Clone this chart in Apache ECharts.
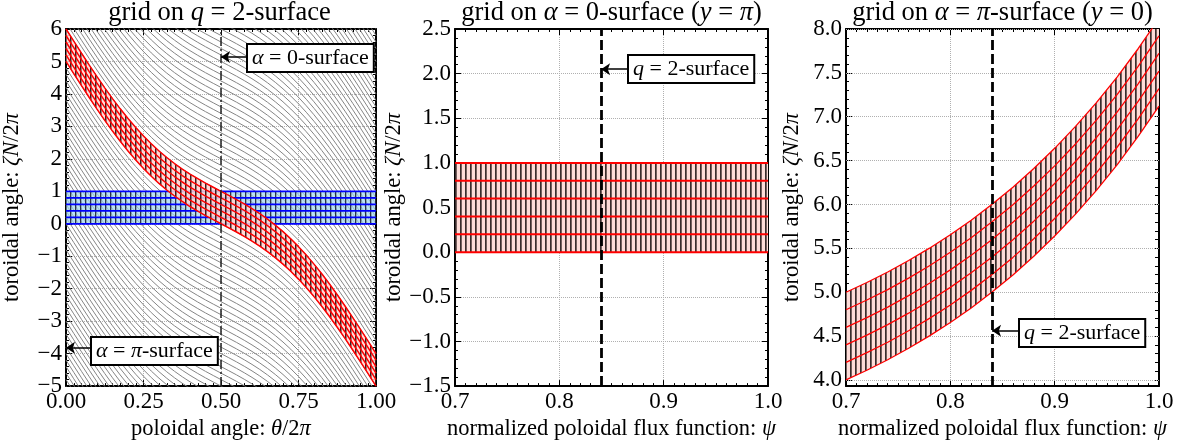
<!DOCTYPE html>
<html>
<head>
<meta charset="utf-8">
<script src="https://cdn.jsdelivr.net/npm/echarts@6/dist/echarts.min.js"></script>
<style>
  html, body { margin: 0; padding: 0; background: #fff; }
  #chart { width: 1185px; height: 446px; }
</style>
</head>
<body>
<div id="chart"></div>
<script>
  // panel 1: flux tube on the q=2 surface, bottom edge (zeta N / 2pi) vs theta/2pi
  const thetaPts = [0, 0.025, 0.05, 0.075, 0.1, 0.125, 0.15, 0.175, 0.2, 0.225, 0.25, 0.275, 0.3, 0.325, 0.35, 0.375, 0.4,
    0.425, 0.45, 0.475, 0.5, 0.525, 0.55, 0.575, 0.6, 0.625, 0.65, 0.675, 0.7, 0.725, 0.75, 0.775, 0.8, 0.825, 0.85, 0.875,
    0.9, 0.925, 0.95, 0.975, 1]
  const tubeZeta = [5.0, 4.625, 4.254, 3.889, 3.532, 3.187, 2.856, 2.541, 2.243, 1.964, 1.704, 1.464, 1.243, 1.041, 0.856,
    0.687, 0.532, 0.389, 0.254, 0.126, 0, -0.126, -0.254, -0.389, -0.532, -0.687, -0.856, -1.041, -1.243, -1.464, -1.704,
    -1.964, -2.243, -2.541, -2.856, -3.187, -3.532, -3.889, -4.254, -4.625, -5.0]
  const thetaRange = [0, 1]
  // offsets of the field lines inside a flux tube
  const alphaLevels = [0, 0.2, 0.4, 0.6, 0.8, 1.0]
  const fieldLineStep = 0.2
  const alphaZeroTheta = 0.5

  // panel 2 / 3
  const psiRange = [0.7, 1.0]
  const psiPts = [0.70, 0.72, 0.74, 0.76, 0.78, 0.80, 0.82, 0.84, 0.86, 0.88, 0.90, 0.92, 0.94, 0.96, 0.98, 1.00]
  const piSurfZeta = [4.000, 4.111, 4.230, 4.361, 4.502, 4.655, 4.821, 5.002, 5.197, 5.410, 5.640, 5.890, 6.161, 6.455, 6.775, 7.121]
  const piSurfTicks = [4.0, 4.5, 5.0, 5.5, 6.0, 6.5, 7.0, 7.5, 8.0]
  const qSurfacePsi = 0.84

  const FONT = 'Liberation Serif'
  const bandHeight = alphaLevels[alphaLevels.length - 1]

  const rich = (size) => ({
    i: { fontFamily: FONT, fontStyle: 'italic', fontSize: size, color: '#000' },
  })

  const hatch = (bg, ink, w) => {
    const c = document.createElement('canvas')
    c.width = 5
    c.height = 4
    const ctx = c.getContext('2d')
    ctx.fillStyle = bg
    ctx.fillRect(0, 0, 5, 4)
    ctx.fillStyle = ink
    ctx.fillRect(0, 0, w, 4)
    return { image: c, repeat: 'repeat' }
  }
  const blueHatch = hatch('rgba(160,212,236,0.7)', 'rgba(10,10,30,0.8)', 1.3)
  const redHatch = hatch('rgba(255,212,208,0.85)', 'rgba(30,0,0,0.85)', 1.5)
  const pinkHatch = hatch('#fddcd8', '#3a2c2c', 1.7)

  const fmt = (d) => (v) => (v < 0 ? '\u2212' : '') + Math.abs(v).toFixed(d)

  const gridLine = { show: true, lineStyle: { color: '#b0b0b0', type: 'dotted', width: 1 } }
  const axLine = { show: true, onZero: false, lineStyle: { color: '#000', width: 2 } }
  const tick = { show: true, inside: true, length: 6, lineStyle: { color: '#000', width: 1 } }
  const label = (d) => ({ fontFamily: FONT, fontSize: 23, color: '#000', margin: 4, formatter: fmt(d) })
  const nameStyle = { fontFamily: FONT, fontSize: 22.5, color: '#000', rich: rich(22.5) }

  const xAxes = []
  const yAxes = []
  const xSpec = [
    { min: 0, max: 1, interval: 0.25, d: 2, minor: 10, name: 'poloidal angle: {i|θ}/2{i|π}' },
    { min: 0.7, max: 1.0, interval: 0.1, d: 1, minor: 10, name: 'normalized poloidal flux function: {i|ψ}' },
    { min: 0.7, max: 1.0, interval: 0.1, d: 1, minor: 10, name: 'normalized poloidal flux function: {i|ψ}' },
  ]
  xSpec.forEach((s, g) => {
    xAxes.push({
      type: 'value', gridIndex: g, position: 'bottom', min: s.min, max: s.max, interval: s.interval,
      axisLine: axLine, axisTick: tick,
      minorTick: { show: true, splitNumber: s.minor, length: 3, lineStyle: { color: '#000' } },
      splitLine: gridLine, axisLabel: label(s.d),
      name: s.name, nameLocation: 'middle', nameGap: 27, nameTextStyle: nameStyle,
    })
  })
  xSpec.forEach((s, g) => {
    xAxes.push({
      type: 'value', gridIndex: g, position: 'top', min: s.min, max: s.max, interval: s.interval,
      axisLine: axLine, axisTick: tick,
      minorTick: { show: true, splitNumber: s.minor, length: 3, lineStyle: { color: '#000' } },
      splitLine: { show: false }, axisLabel: { show: false },
    })
  })

  const yName = 'toroidal angle: {i|ζN}/2{i|π}'
  const ySpec = [
    { min: -5, max: 6, interval: 1, d: 0, minor: 5 },
    { min: -1.5, max: 2.5, interval: 0.5, d: 1, minor: 5 },
  ]
  ySpec.forEach((s, g) => {
    yAxes.push({
      type: 'value', gridIndex: g, position: 'left', min: s.min, max: s.max, interval: s.interval,
      axisLine: axLine, axisTick: tick,
      minorTick: { show: true, splitNumber: s.minor, length: 3, lineStyle: { color: '#000' } },
      splitLine: gridLine, axisLabel: label(s.d),
      name: yName, nameLocation: 'middle', nameGap: 42, nameRotate: 90, nameTextStyle: nameStyle,
    })
  })
  // panel 3: axis starts a little below 4.0, so ticks are given explicitly
  const piMinor = []
  for (let k = 40; k <= 80; k++) piMinor.push(k / 10)
  yAxes.push({
    type: 'value', gridIndex: 2, position: 'left', min: 3.93, max: 8.0,
    axisLine: axLine,
    axisTick: Object.assign({}, tick, { customValues: piSurfTicks }),
    splitLine: { show: false },
    axisLabel: Object.assign(label(1), { customValues: piSurfTicks }),
    name: yName, nameLocation: 'middle', nameGap: 42, nameRotate: 90, nameTextStyle: nameStyle,
  })
  ySpec.forEach((s, g) => {
    yAxes.push({
      type: 'value', gridIndex: g, position: 'right', min: s.min, max: s.max, interval: s.interval,
      axisLine: axLine, axisTick: tick,
      minorTick: { show: true, splitNumber: s.minor, length: 3, lineStyle: { color: '#000' } },
      splitLine: { show: false }, axisLabel: { show: false },
    })
  })
  yAxes.push({
    type: 'value', gridIndex: 2, position: 'right', min: 3.93, max: 8.0,
    axisLine: axLine, axisTick: { show: true, inside: true, length: 4, customValues: piMinor, lineStyle: { color: '#000' } },
    splitLine: { show: false }, axisLabel: { show: false },
  })
  // minor ticks on the left side of panel 3
  yAxes.push({
    type: 'value', gridIndex: 2, position: 'left', min: 3.93, max: 8.0,
    axisLine: { show: false }, axisTick: { show: true, inside: true, length: 3, customValues: piMinor, lineStyle: { color: '#000' } },
    splitLine: { show: false }, axisLabel: { show: false },
  })

  const mk = (p, extra) => Object.assign({
    type: 'line', xAxisIndex: p, yAxisIndex: p, showSymbol: false, symbol: 'none', silent: true,
  }, extra)

  // hatched band between base and base + bandHeight
  const bandSeries = (p, xs, base, fill, color, width, z) => {
    const s = []
    s.push({
      type: 'custom', xAxisIndex: p, yAxisIndex: p, z, silent: true, clip: true,
      data: [[xs[0], base[0]]],
      renderItem: (params, api) => {
        const pts = []
        xs.forEach((x, i) => pts.push(api.coord([x, base[i]])))
        for (let i = xs.length - 1; i >= 0; i--) pts.push(api.coord([xs[i], base[i] + bandHeight]))
        return { type: 'polygon', shape: { points: pts }, style: { fill, stroke: null } }
      },
    })
    alphaLevels.forEach((a) => {
      s.push(mk(p, { z: z + 1, data: xs.map((x, i) => [x, +(base[i] + a).toFixed(3)]), lineStyle: { color, width } }))
    })
    return s
  }

  // panel 1 background field lines
  const fieldData = []
  for (let k = -51; k <= 56; k++) {
    const c = k * fieldLineStep
    thetaPts.forEach((t, i) => fieldData.push([t, +(tubeZeta[i] + c).toFixed(3)]))
    fieldData.push([null, null])
  }

  const arrowPair = (from, to) => [
    { coord: from, symbol: 'none', lineStyle: { color: '#000', width: 1.5, type: 'solid' } },
    { coord: to, symbol: 'arrow', symbolSize: 9, lineStyle: { color: '#000', width: 1.5, type: 'solid' } },
  ]
  const marker = (data, z) => ({
    silent: true, symbol: ['none', 'none'], label: { show: false }, z,
    itemStyle: { color: '#000' }, emphasis: { disabled: true }, data,
  })

  const series = [
    mk(0, { z: 1, data: fieldData, connectNulls: false, lineStyle: { color: '#858585', width: 1 } }),
    ...bandSeries(0, thetaRange, [0, 0], blueHatch, '#0000ff', 1.8, 3),
    ...bandSeries(0, thetaPts, tubeZeta, redHatch, '#ff0000', 1.5, 6),
    mk(0, {
      z: 9, data: [[alphaZeroTheta, 0]], lineStyle: { opacity: 0 },
      markLine: marker([
        { xAxis: alphaZeroTheta, lineStyle: { color: '#222', width: 1.5, type: [9, 3, 2, 3] } },
        arrowPair([0.591, 5.14], [alphaZeroTheta, 5.14]),
        arrowPair([0.093, -3.82], [0, -3.82]),
      ], 10),
    }),
    ...bandSeries(1, psiRange, [0, 0], pinkHatch, '#ff0000', 2, 3),
    mk(1, {
      z: 9, data: [[qSurfacePsi, 0]], lineStyle: { opacity: 0 },
      markLine: marker([
        { xAxis: qSurfacePsi, lineStyle: { color: '#000', width: 2.8, type: [10, 4] } },
        arrowPair([0.8668, 2.05], [qSurfacePsi, 2.05]),
      ], 10),
    }),
    mk(2, {
      z: 1, data: [[0.7, 4]], lineStyle: { opacity: 0 },
      markLine: marker(piSurfTicks.map((v) => ({ yAxis: v, lineStyle: { color: '#b0b0b0', type: 'dotted', width: 1 } })), 1),
    }),
    ...bandSeries(2, psiPts, piSurfZeta, pinkHatch, '#ff0000', 1.3, 3),
    mk(2, {
      z: 9, data: [[qSurfacePsi, 5]], lineStyle: { opacity: 0 },
      markLine: marker([
        { xAxis: qSurfacePsi, lineStyle: { color: '#000', width: 2.8, type: [10, 4] } },
        arrowPair([0.8668, 4.56], [qSurfacePsi, 4.56]),
      ], 10),
    }),
  ]

  const titleText = (x, text) => ({
    type: 'text', x, y: 13, z: 100, silent: true,
    style: { text, fontFamily: FONT, fontSize: 26.5, fill: '#000', align: 'center', verticalAlign: 'middle', rich: rich(26.5) },
  })
  const boxText = (x, y, text) => ({
    type: 'text', x, y, z: 100, silent: true,
    style: {
      text, fontFamily: FONT, fontSize: 22, fill: '#000', align: 'left', verticalAlign: 'top', lineHeight: 24,
      backgroundColor: '#fff', borderColor: '#000', borderWidth: 2, padding: [1, 4], rich: rich(22),
    },
  })

  const options = {
    animation: false,
    grid: [
      { left: 63, top: 29, width: 313, height: 361 },
      { left: 455, top: 29, width: 313, height: 361 },
      { left: 846, top: 29, width: 313, height: 361 },
    ],
    xAxis: xAxes,
    yAxis: yAxes,
    series,
    graphic: [
      titleText(219.5, 'grid on {i|q} = 2-surface'),
      titleText(611.5, 'grid on {i|α} = 0-surface ({i|y} = {i|π})'),
      titleText(1002.5, 'grid on {i|α} = {i|π}-surface ({i|y} = 0)'),
      boxText(248, 45, '{i|α} = 0-surface'),
      boxText(92, 338, '{i|α} = {i|π}-surface'),
      boxText(629, 56, '{i|q} = 2-surface'),
      boxText(1020, 320, '{i|q} = 2-surface'),
    ],
  }

  const chart = echarts.init(document.getElementById('chart'))
  chart.setOption(options)
  window.addEventListener('resize', function () {
    chart && chart.resize()
  })
</script>
</body>
</html>
